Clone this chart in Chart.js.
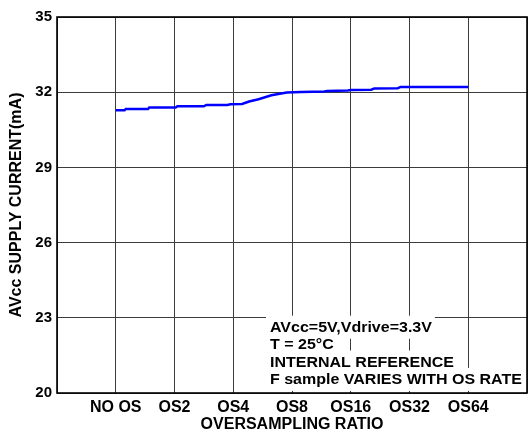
<!DOCTYPE html>
<html>
<head>
<meta charset="utf-8">
<script src="https://cdn.jsdelivr.net/npm/chart.js@4"></script>
<style>
  html, body { margin: 0; padding: 0; background: #ffffff; }
  canvas { display: block; }
</style>
</head>
<body>
<canvas id="c" width="532" height="434"></canvas>
<script>
// Category labels on the x axis (positions 0..8; ends are blank)
const xLabels = ['', 'NO OS', 'OS2', 'OS4', 'OS8', 'OS16', 'OS32', 'OS64', ''];
// Supply current trace, x in category units, y in mA
const curX = [1.0, 1.15, 1.17, 1.55, 1.57, 2.02, 2.05, 2.5, 2.54, 2.9, 2.95, 3.15, 3.27, 3.43, 3.65, 3.91, 4.15, 4.55, 4.6, 4.95, 5.0, 5.35, 5.4, 5.8, 5.85, 7.0];
const curY = [31.28, 31.28, 31.33, 31.33, 31.39, 31.39, 31.44, 31.44, 31.49, 31.49, 31.52, 31.53, 31.63, 31.72, 31.88, 31.99, 32.01, 32.03, 32.05, 32.07, 32.09, 32.1, 32.15, 32.16, 32.21, 32.21];
const yTicks = [20, 23, 26, 29, 32, 35];
const noteLines = ['AVcc=5V,Vdrive=3.3V', 'T = 25\u00B0C', 'INTERNAL REFERENCE', 'F sample VARIES WITH OS RATE'];

const FONT = '"Liberation Sans", Arial, sans-serif';

const points = curX.map((x, i) => ({ x: x, y: curY[i] }));

const notePlugin = {
  id: 'note',
  afterDatasetsDraw(chart) {
    const ctx = chart.ctx;
    const a = chart.chartArea;
    ctx.save();
    ctx.font = 'bold 16px ' + FONT;
    const left = a.left + 213;
    noteLines.forEach((t, i) => {
      const b = a.bottom - 61.3 + i * 17.4;
      const w = ctx.measureText(t).width;
      ctx.fillStyle = '#ffffff';
      ctx.fillRect(left - 4, b - 16, w + 7, 23);
    });
    noteLines.forEach((t, i) => {
      const b = a.bottom - 61.3 + i * 17.4;
      ctx.save();
      ctx.translate(left, b);
      ctx.scale(1, 0.87);
      ctx.fillStyle = '#000000';
      ctx.textBaseline = 'alphabetic';
      ctx.textAlign = 'left';
      ctx.fillText(t, 0, 0);
      ctx.restore();
    });
    ctx.restore();
  },
  afterDraw(chart) {
    const ctx = chart.ctx;
    const a = chart.chartArea;
    ctx.save();
    ctx.strokeStyle = '#000000';
    ctx.lineWidth = 1.6;
    ctx.strokeRect(a.left, a.top, a.right - a.left, a.bottom - a.top);
    ctx.restore();
  }
};

new Chart(document.getElementById('c'), {
  type: 'line',
  data: {
    datasets: [{
      data: points,
      borderColor: '#0000ff',
      borderWidth: 2.5,
      pointRadius: 0,
      tension: 0,
      fill: false
    }]
  },
  options: {
    responsive: false,
    animation: false,
    devicePixelRatio: 1,
    layout: { padding: { top: 17, right: 2, left: 0, bottom: 0 } },
    plugins: { legend: { display: false }, tooltip: { enabled: false } },
    scales: {
      x: {
        type: 'linear',
        min: 0,
        max: 8,
        afterBuildTicks(scale) { scale.ticks = xLabels.map((_, i) => ({ value: i })); },
        afterFit(scale) { scale.height = 41; },
        grid: { color: '#3c3c3c', lineWidth: 1, drawTicks: false },
        border: { display: false },
        ticks: {
          autoSkip: false,
          maxRotation: 0,
          padding: 5,
          color: '#000000',
          font: { family: FONT, size: 16, weight: 'bold' },
          callback: (v) => xLabels[Math.round(v)] || ''
        },
        title: {
          display: true,
          text: 'OVERSAMPLING RATIO',
          color: '#000000',
          font: { family: FONT, size: 16, weight: 'bold' },
          padding: { top: 0, bottom: 0 }
        }
      },
      y: {
        min: 20,
        max: 35,
        afterBuildTicks(scale) { scale.ticks = yTicks.map(v => ({ value: v })); },
        afterFit(scale) { scale.width = 57; },
        grid: { color: '#3c3c3c', lineWidth: 1, drawTicks: false },
        border: { display: false },
        ticks: {
          padding: 5,
          color: '#000000',
          font: { family: FONT, size: 15, weight: 'bold' }
        },
        title: {
          display: true,
          text: 'AVcc SUPPLY CURRENT(mA)',
          color: '#000000',
          font: { family: FONT, size: 16, weight: 'bold' },
          padding: { top: 7, bottom: 0 }
        }
      }
    }
  },
  plugins: [notePlugin]
});
</script>
</body>
</html>
